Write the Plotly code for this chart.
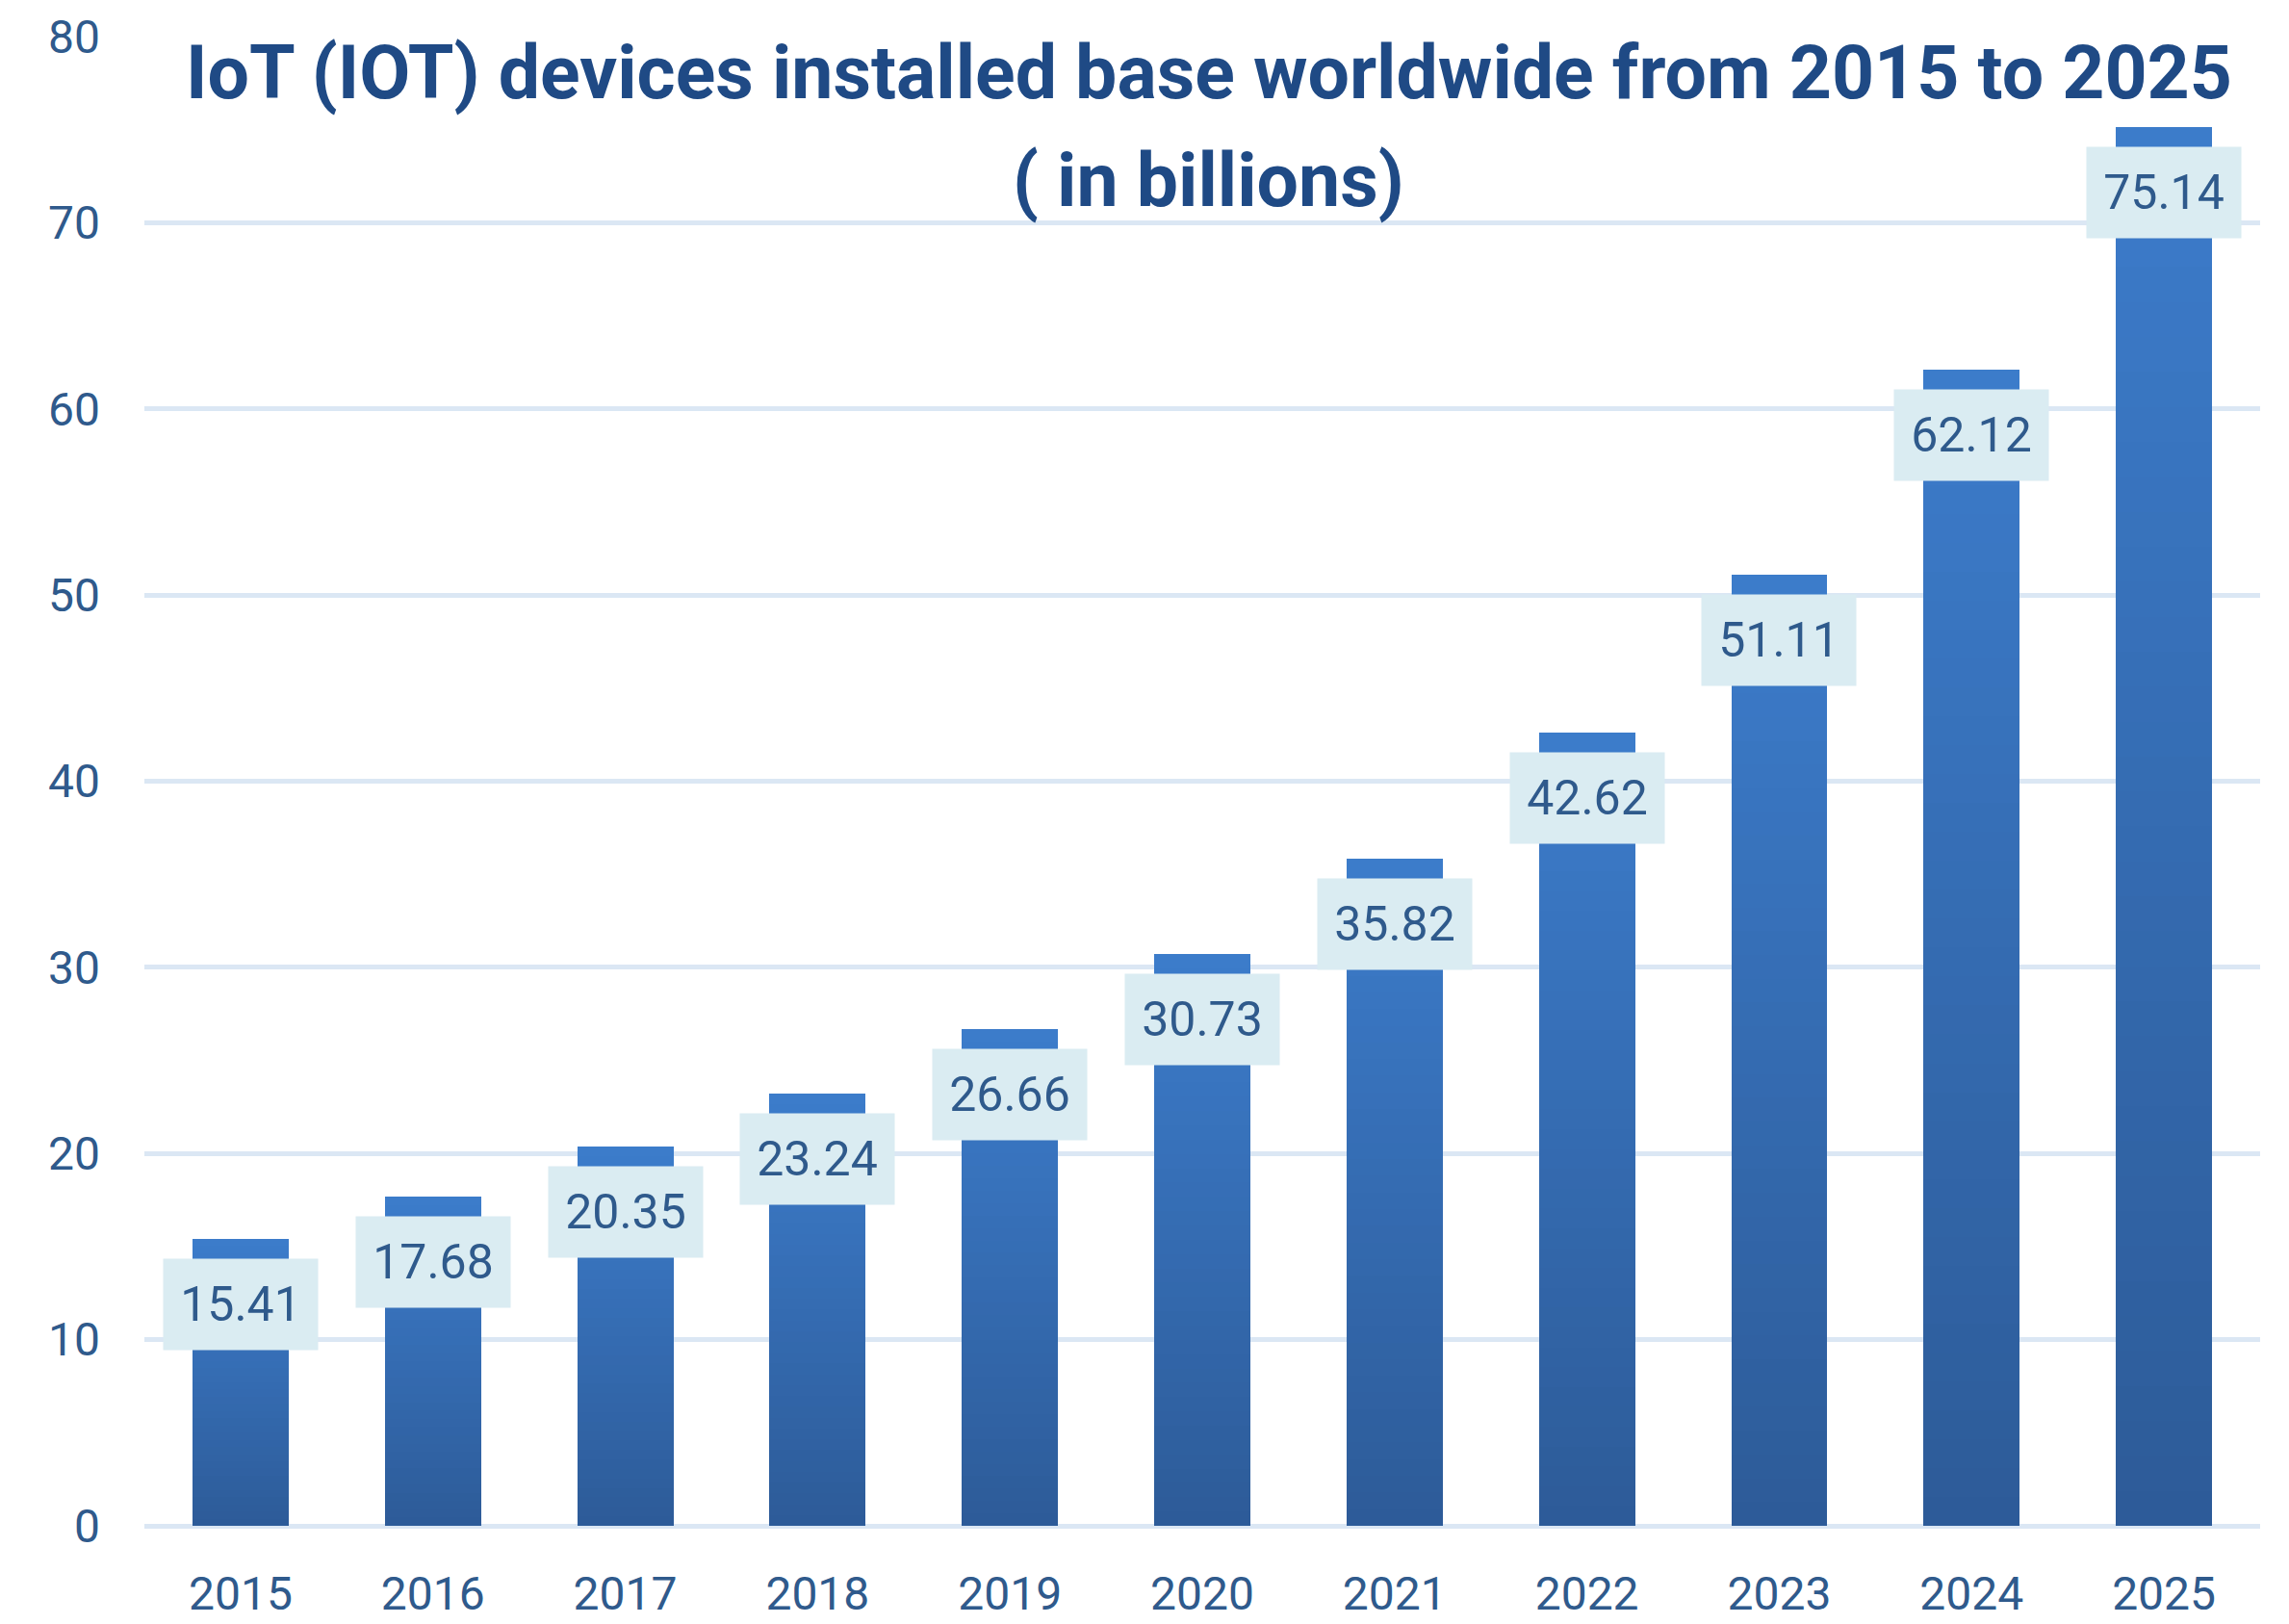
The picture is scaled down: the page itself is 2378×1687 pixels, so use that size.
import plotly.graph_objects as go

years = ["2015", "2016", "2017", "2018", "2019", "2020", "2021", "2022", "2023", "2024", "2025"]
values = [15.41, 17.68, 20.35, 23.24, 26.66, 30.73, 35.82, 42.62, 51.11, 62.12, 75.14]
value_labels = ["15.41", "17.68", "20.35", "23.24", "26.66", "30.73", "35.82", "42.62", "51.11", "62.12", "75.14"]
y_ticks = [0, 10, 20, 30, 40, 50, 60, 70, 80]

title_line1 = "IoT (IOT) devices installed base worldwide from 2015 to 2025"
title_line2 = "( in billions)"

FONT = "Roboto, Liberation Sans, sans-serif"
bottom_rgb = (45, 91, 152)
top_rgb = (60, 124, 203)
N = 40

fig = go.Figure()
for k in range(N):
    t = (k + 0.5) / N
    c = tuple(round(bottom_rgb[i] + (top_rgb[i] - bottom_rgb[i]) * t) for i in range(3))
    fig.add_trace(go.Bar(
        x=years,
        y=[v / N for v in values],
        marker=dict(color="rgb(%d,%d,%d)" % c, line=dict(width=0)),
        hoverinfo="skip",
        showlegend=False,
    ))

for i, (v, lab) in enumerate(zip(values, value_labels)):
    fig.add_annotation(
        x=i, y=v, xref="x", yref="y",
        text=lab, showarrow=False,
        yshift=-68,
        bgcolor="#daecf2",
        width=160, height=94, borderpad=0,
        font=dict(family=FONT, size=50, color="#2f5a8c"),
    )

fig.add_annotation(
    x=0.503, y=1, xref="paper", yref="paper",
    xanchor="center", yanchor="middle", yshift=-38,
    text=title_line1, showarrow=False,
    font=dict(family=FONT, size=77, color="#1f4a85", weight="bold"),
)
fig.add_annotation(
    x=0.503, y=1, xref="paper", yref="paper",
    xanchor="center", yanchor="middle", yshift=-150,
    text=title_line2, showarrow=False,
    font=dict(family=FONT, size=77, color="#1f4a85", weight="bold"),
)

fig.update_layout(
    width=2378, height=1687,
    barmode="stack",
    bargap=0.5,
    plot_bgcolor="white",
    paper_bgcolor="white",
    margin=dict(l=150, r=30, t=38, b=102),
    xaxis=dict(
        type="category",
        range=[-0.5, 10.5],
        automargin=False,
        showgrid=False,
        tickfont=dict(family=FONT, size=48, color="#2f5a8c"),
        ticks="",
        ticklabelstandoff=38,
        showline=False,
    ),
    yaxis=dict(
        range=[0, 80],
        tickvals=y_ticks,
        automargin=False,
        showgrid=True,
        gridcolor="#dbe7f4",
        gridwidth=5,
        zeroline=True,
        zerolinecolor="#dbe7f4",
        zerolinewidth=5,
        tickfont=dict(family=FONT, size=48, color="#2f5a8c"),
        ticks="",
        ticklabelstandoff=45,
        showline=False,
    ),
)

fig.write_html("out.html")
